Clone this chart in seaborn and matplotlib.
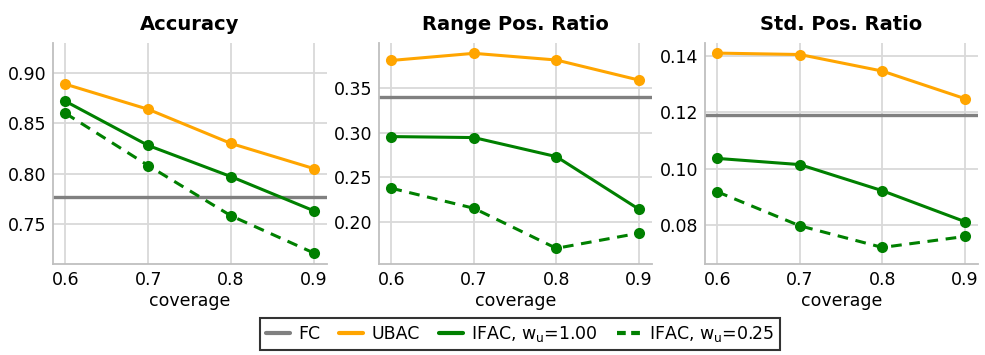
import numpy as np
import pandas as pd
import matplotlib
matplotlib.use("Agg")
import matplotlib.pyplot as plt
from matplotlib.lines import Line2D
from matplotlib.ticker import FormatStrFormatter
import seaborn as sns

coverage = [0.6, 0.7, 0.8, 0.9]

# Accuracy
acc_fc = 0.7765
acc_ubac = [0.889, 0.864, 0.830, 0.805]
acc_ifac_100 = [0.872, 0.828, 0.797, 0.763]
acc_ifac_025 = [0.860, 0.808, 0.758, 0.721]

# Range of positive ratio
rng_fc = 0.340
rng_ubac = [0.381, 0.389, 0.3815, 0.359]
rng_ifac_100 = [0.2955, 0.2944, 0.273, 0.214]
rng_ifac_025 = [0.2375, 0.215, 0.170, 0.187]

# Std of positive ratio
std_fc = 0.1192
std_ubac = [0.1411, 0.1406, 0.1347, 0.1249]
std_ifac_100 = [0.1036, 0.1014, 0.0921, 0.0811]
std_ifac_025 = [0.0917, 0.0796, 0.0719, 0.0758]

titles = ["Accuracy", "Range Pos. Ratio", "Std. Pos. Ratio"]
methods = ["UBAC", "IFAC, w_u=1.00", "IFAC, w_u=0.25"]
legend_labels = ["FC", "UBAC",
                 r"IFAC, $\mathregular{w_u}$=1.00",
                 r"IFAC, $\mathregular{w_u}$=0.25"]

panels = [
    (acc_fc, [acc_ubac, acc_ifac_100, acc_ifac_025],
     (0.710, 0.930), [0.75, 0.80, 0.85, 0.90]),
    (rng_fc, [rng_ubac, rng_ifac_100, rng_ifac_025],
     (0.1524, 0.4006), [0.20, 0.25, 0.30, 0.35]),
    (std_fc, [std_ubac, std_ifac_100, std_ifac_025],
     (0.0660, 0.1447), [0.08, 0.10, 0.12, 0.14]),
]

palette = {"UBAC": "#FFA500", "IFAC, w_u=1.00": "#008000", "IFAC, w_u=0.25": "#008000"}
dashes = {"UBAC": "", "IFAC, w_u=1.00": "", "IFAC, w_u=0.25": (3.5, 2.5)}
markers = {m: "o" for m in methods}
fc_color = "#808080"

sns.set_theme(style="whitegrid")
plt.rcParams["font.family"] = ["DejaVu Sans"]
plt.rcParams["mathtext.default"] = "regular"
for key in ["text.color", "axes.labelcolor", "xtick.color", "ytick.color"]:
    plt.rcParams[key] = "black"

fig = plt.figure(figsize=(9.85, 3.55), dpi=100)
W, H = 985, 355
boxes = [(53, 327), (379, 652), (705, 978)]
top_px, bot_px = 43, 264

for (x0, x1), title, (fc, series, ylim, yticks) in zip(boxes, titles, panels):
    ax = fig.add_axes([x0 / W, 1 - bot_px / H, (x1 - x0) / W, (bot_px - top_px) / H])
    rows = []
    for m, vals in zip(methods, series):
        for c, v in zip(coverage, vals):
            rows.append({"coverage": c, "value": v, "method": m})
    df = pd.DataFrame(rows)
    ax.axhline(fc, color=fc_color, lw=2.4, zorder=2)
    sns.lineplot(data=df, x="coverage", y="value", hue="method", style="method",
                 hue_order=methods, style_order=methods,
                 palette=palette, dashes=dashes, markers=markers,
                 markersize=8, markeredgewidth=0, linewidth=2.2,
                 legend=False, ax=ax, zorder=3)
    ax.set_xlim(0.585, 0.916)
    ax.set_ylim(*ylim)
    ax.set_xticks(coverage)
    ax.set_yticks(yticks)
    ax.xaxis.set_major_formatter(FormatStrFormatter("%.1f"))
    ax.yaxis.set_major_formatter(FormatStrFormatter("%.2f"))
    ax.tick_params(labelsize=12.5, length=0, pad=5)
    ax.set_xlabel("coverage", fontsize=12.5, labelpad=2)
    ax.set_ylabel("")
    ax.set_title(title, fontsize=14, fontweight="bold", pad=9)
    ax.grid(True, color="#d9d9d9", lw=1.3)
    for s in ["top", "right"]:
        ax.spines[s].set_visible(False)
    for s in ["left", "bottom"]:
        ax.spines[s].set_color("#bfbfbf")
        ax.spines[s].set_linewidth(1.3)

handles = [
    Line2D([], [], color=fc_color, lw=3),
    Line2D([], [], color="#FFA500", lw=3),
    Line2D([], [], color="#008000", lw=3),
    Line2D([], [], color="#008000", lw=3, dashes=(2.1, 1.3)),
]
leg = fig.legend(handles, legend_labels, loc="center", bbox_to_anchor=(0.528, 0.059),
                 ncol=4, fontsize=12.5, frameon=True, fancybox=False,
                 handlelength=1.4, handletextpad=0.45, columnspacing=1.1,
                 borderpad=0.35, edgecolor="black")
leg.get_frame().set_linewidth(1.5)

fig.savefig("out.png", dpi=100)
